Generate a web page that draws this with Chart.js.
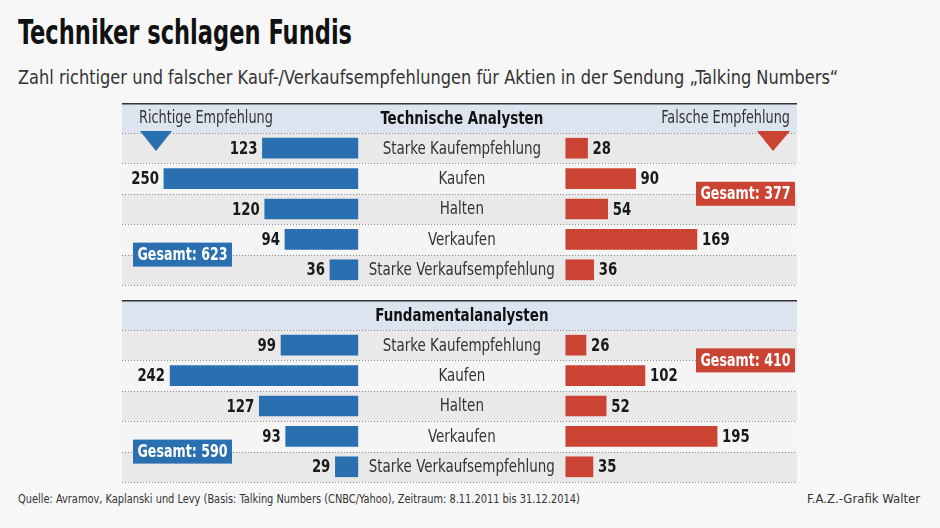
<!DOCTYPE html>
<html>
<head>
<meta charset="utf-8">
<script src="https://cdn.jsdelivr.net/npm/chart.js@4.4.0/dist/chart.umd.min.js"></script>
<style>
  body { margin: 0; background: #f7f7f7; width: 940px; height: 528px; overflow: hidden;
         font-family: "DejaVu Sans Condensed", "DejaVu Sans", sans-serif; color: #222; }
  .t { position: absolute; white-space: nowrap; transform-origin: left top; }
  #title { left: 18px; top: 13px; font-size: 33px; font-weight: bold; color: #111; transform: scaleX(0.76); }
  #subtitle { left: 18px; top: 65px; font-size: 20px; color: #333; transform: scaleX(0.9); }
  #source { left: 18px; top: 491px; font-size: 13px; color: #333; transform: scaleX(0.84); }
  #credit { right: 20px; top: 491px; font-size: 13px; color: #333; transform-origin: right top; transform: scaleX(1.0); }
  canvas { position: absolute; left: 122px; }
</style>
</head>
<body>
<div id="title" class="t">Techniker schlagen Fundis</div>
<div id="subtitle" class="t">Zahl richtiger und falscher Kauf-/Verkaufsempfehlungen für Aktien in der Sendung „Talking Numbers“</div>
<canvas id="tech" width="675" height="183" style="top:103px"></canvas>
<canvas id="fund" width="675" height="183" style="top:300px"></canvas>
<div id="source" class="t">Quelle: Avramov, Kaplanski und Levy (Basis: Talking Numbers (CNBC/Yahoo), Zeitraum: 8.11.2011 bis 31.12.2014)</div>
<div id="credit" class="t">F.A.Z.-Grafik Walter</div>
<script>
// data
const categories = ['Starke Kaufempfehlung', 'Kaufen', 'Halten', 'Verkaufen', 'Starke Verkaufsempfehlung'];
const techRichtig = [123, 250, 120, 94, 36];
const techFalsch = [28, 90, 54, 169, 36];
const fundRichtig = [99, 242, 127, 93, 29];
const fundFalsch = [26, 102, 52, 195, 35];

const FONT = '"DejaVu Sans Condensed", "DejaVu Sans", sans-serif';
const BLUE = '#2a70b1';
const RED = '#cb4332';
const GAP = 134;   // half width of the label column, in value units

const sum = arr => arr.reduce((a, b) => a + b, 0);

// condensed text: the installed fonts are wider than the original one
function txt(c, s, x, y, font, align, sx) {
  c.save();
  c.font = font;
  c.textAlign = align;
  c.translate(x, y);
  c.scale(sx, 1);
  c.fillText(s, 0, 0);
  c.restore();
}

const panelPlugin = {
  id: 'panel',
  beforeDatasetsDraw(chart, args, opts) {
    const c = chart.ctx, a = chart.chartArea, w = chart.width;
    const h = (a.bottom - a.top) / categories.length;
    c.save();
    // header band
    c.fillStyle = '#dce5ef';
    c.fillRect(0, 0, w, a.top);
    c.fillStyle = '#333';
    c.fillRect(0, 0, w, 1.5);
    // rows
    for (let i = 0; i < categories.length; i++) {
      c.fillStyle = i % 2 === 0 ? '#e9e9e9' : '#f5f5f5';
      c.fillRect(0, a.top + i * h, w, h);
    }
    c.strokeStyle = '#8a8a8a';
    c.lineWidth = 1;
    c.setLineDash([1, 2]);
    for (let i = 0; i <= categories.length; i++) {
      const y = Math.round(a.top + i * h) + 0.5;
      c.beginPath(); c.moveTo(0, y); c.lineTo(w, y); c.stroke();
    }
    c.restore();
  },
  afterDatasetsDraw(chart, args, opts) {
    const c = chart.ctx, a = chart.chartArea, w = chart.width;
    const x = chart.scales.x, y = chart.scales.y;
    const mid = x.getPixelForValue(0);
    c.save();
    c.textBaseline = 'middle';
    // header title
    c.fillStyle = '#111';
    txt(c, opts.title, mid, a.top / 2 + 1, 'bold 18px ' + FONT, 'center', 0.83);
    if (opts.legend) {
      c.fillStyle = '#333';
      txt(c, 'Richtige Empfehlung', 17, a.top / 2 + 1, '17px ' + FONT, 'left', 0.84);
      txt(c, 'Falsche Empfehlung', w - 7, a.top / 2 + 1, '17px ' + FONT, 'right', 0.84);
      c.fillStyle = BLUE;
      c.beginPath(); c.moveTo(18, 28); c.lineTo(50, 28); c.lineTo(34, 48); c.closePath(); c.fill();
      c.fillStyle = RED;
      c.beginPath(); c.moveTo(635, 28); c.lineTo(668, 28); c.lineTo(651, 48); c.closePath(); c.fill();
    }
    // row labels and values
    const left = chart.data.datasets[0].raw, right = chart.data.datasets[1].raw;
    categories.forEach((cat, i) => {
      const yy = y.getPixelForValue(i) + 1;
      c.fillStyle = '#333';
      txt(c, cat, mid, yy, '17px ' + FONT, 'center', 0.88);
      c.fillStyle = '#1a1a1a';
      txt(c, String(left[i]), x.getPixelForValue(-(GAP + left[i])) - 5, yy, 'bold 18px ' + FONT, 'right', 0.82);
      txt(c, String(right[i]), x.getPixelForValue(GAP + right[i]) + 5, yy, 'bold 18px ' + FONT, 'left', 0.82);
    });
    // totals
    const box = (idx, color, text, side) => {
      const yc = (y.getPixelForValue(Math.floor(idx)) + y.getPixelForValue(Math.ceil(idx))) / 2;
      const bw = 99, bh = 24;
      const bx = side === 'left' ? 11 : w - 2 - bw;
      c.fillStyle = color;
      c.fillRect(bx, yc - bh / 2, bw, bh);
      c.fillStyle = '#fff';
      txt(c, text, bx + bw / 2, yc + 1, 'bold 18px ' + FONT, 'center', 0.78);
    };
    box(opts.leftTotalAt, BLUE, 'Gesamt: ' + sum(left), 'left');
    box(opts.rightTotalAt, RED, 'Gesamt: ' + sum(right), 'right');
    c.restore();
  }
};

function makePanel(id, title, richtig, falsch, legend, leftTotalAt, rightTotalAt) {
  return new Chart(document.getElementById(id), {
    type: 'bar',
    data: {
      labels: categories,
      datasets: [
        { label: 'Richtige Empfehlung', raw: richtig,
          data: richtig.map(v => [-(GAP + v), -GAP]), backgroundColor: BLUE },
        { label: 'Falsche Empfehlung', raw: falsch,
          data: falsch.map(v => [GAP, GAP + v]), backgroundColor: RED }
      ]
    },
    options: {
      indexAxis: 'y',
      responsive: false,
      animation: false,
      layout: { padding: { top: 30, bottom: 1, left: 0, right: 0 } },
      datasets: { bar: { barThickness: 20, grouped: false, borderWidth: 0, borderSkipped: false } },
      scales: {
        x: { type: 'linear', min: -438, max: 432, display: false },
        y: { type: 'category', display: false }
      },
      plugins: {
        legend: { display: false },
        tooltip: { enabled: false },
        panel: { title: title, legend: legend, leftTotalAt: leftTotalAt, rightTotalAt: rightTotalAt }
      }
    },
    plugins: [panelPlugin]
  });
}

makePanel('tech', 'Technische Analysten', techRichtig, techFalsch, true, 3.5, 1.5);
makePanel('fund', 'Fundamentalanalysten', fundRichtig, fundFalsch, false, 3.5, 0.5);
</script>
</body>
</html>
